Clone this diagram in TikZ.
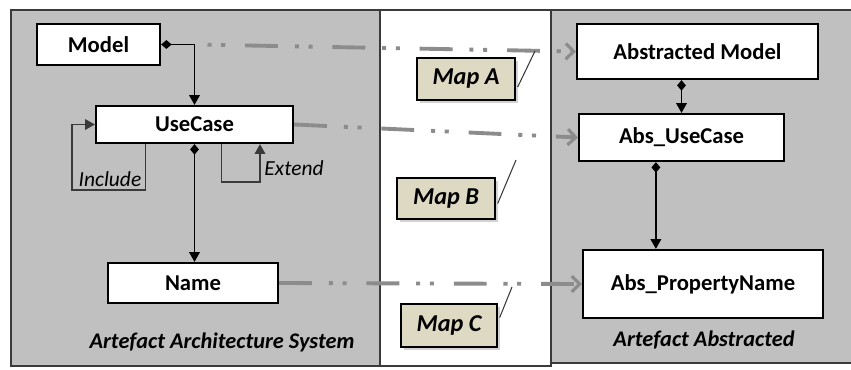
\documentclass[tikz,border=0pt]{standalone}
\usepackage{fontspec}
\setmainfont{Carlito}
\usepackage{tikz}
\usetikzlibrary{arrows.meta,calc,shadows}
\definecolor{panelgrey}{HTML}{C0C0C0}
\definecolor{mapgrey}{HTML}{8C8C8C}
\definecolor{mapfill}{HTML}{DDD9C3}
\definecolor{edgecolor}{HTML}{3A3A3A}

\begin{document}
\begin{tikzpicture}[
        x=0.02cm,
        y=-0.02cm,
        panel/.style={draw=edgecolor, line width=1.2pt},
        clsbox/.style={draw, line width=1.3pt, fill=white, inner sep=0pt,
            font=\fontsize{12.9}{14}\selectfont\bfseries},
        mapbox/.style={draw, line width=0.8pt, fill=mapfill, inner sep=0pt,
            font=\fontsize{13.8}{16}\selectfont\bfseries\itshape,
            drop shadow={shadow xshift=1.5pt, shadow yshift=-1.5pt, opacity=0.35}},
        assoc/.style={{Diamond[length=6pt,width=5pt]}-{Triangle[length=5.5pt,width=6pt]}, line width=0.8pt},
        rel/.style={-{Triangle[length=5.5pt,width=6pt]}, line width=0.6pt, edgecolor},
        mapline/.style={-{Straight Barb[length=4.5pt,width=9pt,line width=1.8pt]}, mapgrey, line width=2.2pt,
            dash pattern=on 18.7pt off 9.6pt on 2.3pt off 5.5pt on 2.3pt off 11.3pt},
        callout/.style={line width=0.6pt, edgecolor},
        caption/.style={font=\fontsize{12.7}{14}\selectfont\bfseries\itshape},
        relname/.style={font=\fontsize{12.2}{14}\selectfont\itshape}
    ]
        \useasboundingbox (0,0) rectangle (851,369);

        % the three panels
        \draw[panel, fill=panelgrey] (551,10) rectangle (870,363);
        \draw[panel, fill=panelgrey] (11,10) rectangle (380,366);
        \draw[panel, fill=white] (380,10) rectangle (551,366);

        % architecture side
        \node[clsbox, minimum width=2.46cm, minimum height=0.82cm] (model) at (98.5,44.5) {Model};
        \node[clsbox, minimum width=3.94cm, minimum height=0.74cm] (usecase) at (194.5,124.5) {UseCase};
        \node[clsbox, minimum width=3.40cm, minimum height=0.80cm] (name) at (193,283) {Name};

        % abstracted side
        \node[clsbox, minimum width=4.82cm, minimum height=1.10cm] (absmodel) at (697.5,51.5) {Abstracted Model};
        \node[clsbox, minimum width=4.10cm, minimum height=0.94cm] (absuse) at (681.5,137.5) {Abs\_UseCase};
        \node[clsbox, minimum width=4.80cm, minimum height=1.36cm] (absprop) at (703,284) {Abs\_PropertyName};

        % maps
        \node[mapbox, minimum width=1.96cm, minimum height=0.84cm] (mapa) at (466,79) {Map A};
        \node[mapbox, minimum width=1.96cm, minimum height=0.82cm] (mapb) at (446,198.5) {Map B};
        \node[mapbox, minimum width=1.92cm, minimum height=0.86cm] (mapc) at (449,325.5) {Map C};

        % mappings
        \draw[mapline, dash phase=20.9pt] (model.east -| usecase.north) -- (absmodel.west);
        \draw[mapline] (usecase.east) -- (absuse.west);
        \draw[mapline] (name.east) -- (absprop.west);

        \coordinate (calla) at (535,51);
        \coordinate (callb) at (516,160);
        \coordinate (callc) at (512,287);
        \draw[callout] ($(mapa.east)+(2,8)$) -- (calla);
        \draw[callout] ($(mapb.east)+(2,5)$) -- (callb);
        \draw[callout] ($(mapc.east)+(2,-8)$) -- (callc);

        % containment
        \draw[assoc] (model.east) -| (usecase.north);
        \draw[assoc] (usecase.south) -- (usecase.south |- name.north);
        \draw[assoc] (absmodel.south -| absuse.north) -- (absuse.north);
        \coordinate (ausedia) at ($(absuse.south west)+(78,0)$);
        \draw[assoc] (ausedia) -- (ausedia |- absprop.north);

        % include and extend loops
        \coordinate (incl) at (72,190);
        \coordinate (extc) at (260,182);
        \draw[rel] ($(usecase.south west)+(51,0)$) |- (incl) |- (usecase.west);
        \draw[rel] ($(usecase.south west)+(127,0)$) |- (extc) -- (extc |- usecase.south);
        \node[relname] (inclabel) at (110,179) {Include};
        \node[relname] (extlabel) at (294,168) {Extend};

        \node[caption] (archcap) at (222,342) {Artefact Architecture System};
        \node[caption] (abscap) at (704,340) {Artefact Abstracted};
    \end{tikzpicture}
\end{document}
